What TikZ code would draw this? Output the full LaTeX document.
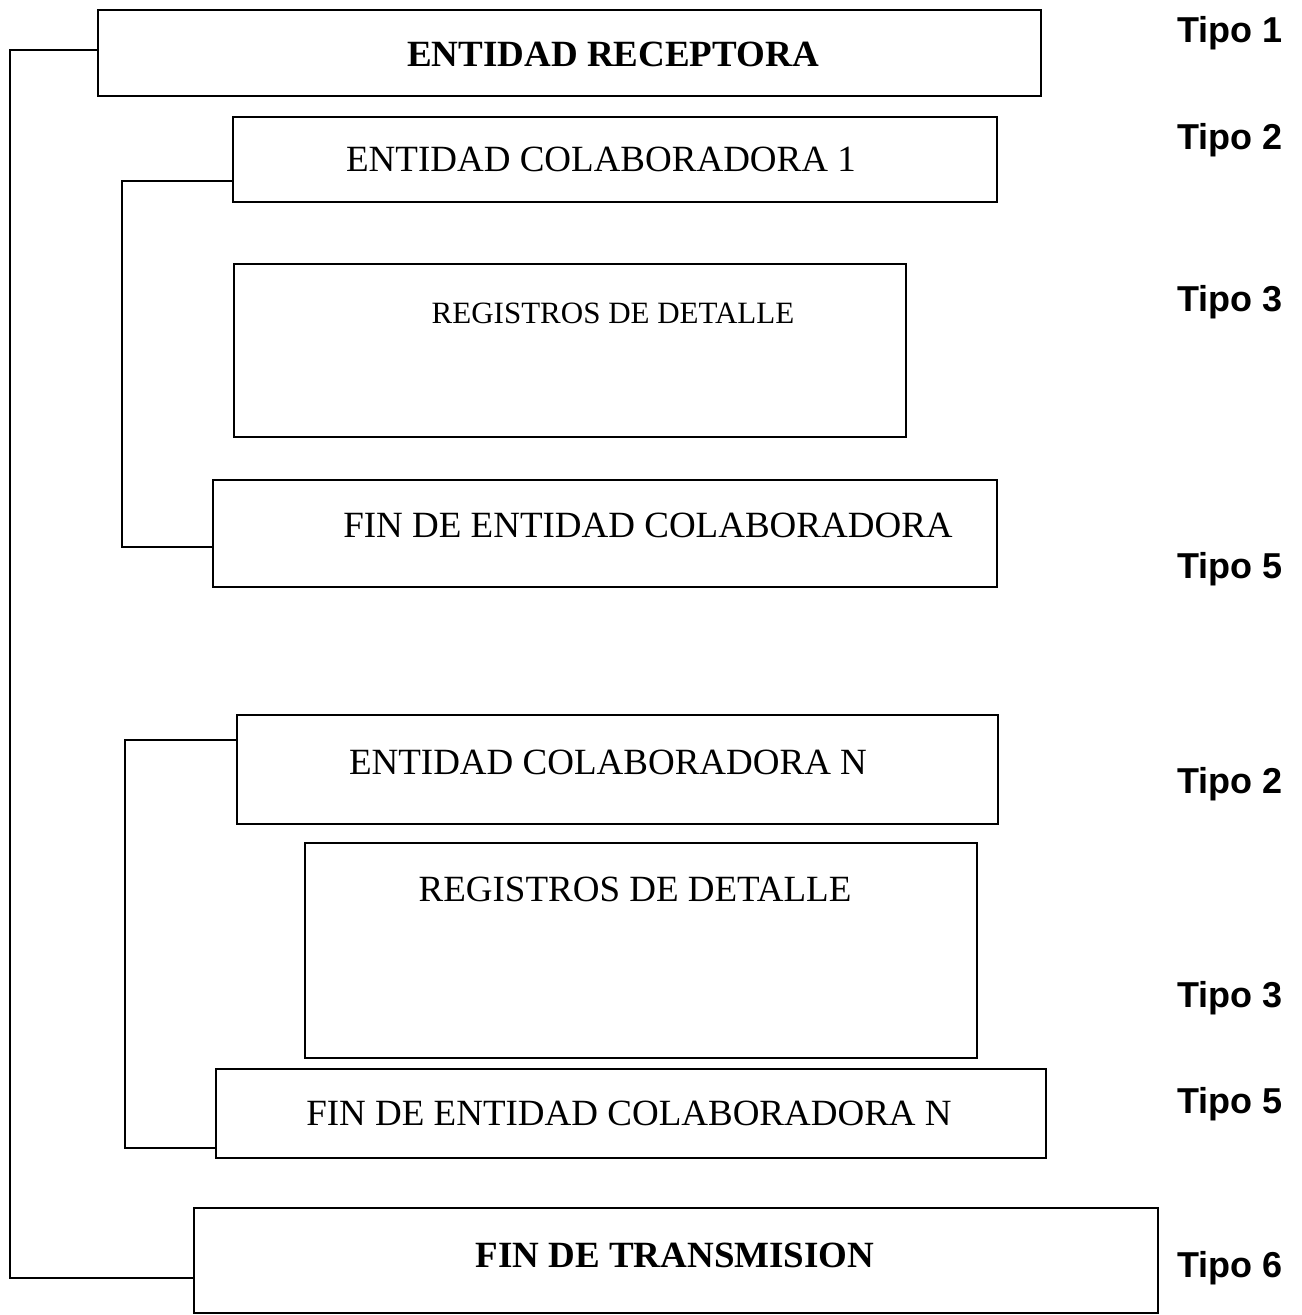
\documentclass[tikz,border=0pt]{standalone}
\usepackage{fontspec}
\setmainfont{Liberation Serif}
\newfontfamily\tiposans{Liberation Sans}
\usepackage{tikz}
\tikzstyle{bloque}=[draw,fill=white,rectangle,inner sep=0pt,line width=1pt]
\tikzstyle{texto}=[inner sep=0pt,anchor=base,font=\fontsize{18.5}{20}\selectfont]
\tikzstyle{tipo}=[inner sep=0pt,anchor=base,font=\tiposans\bfseries\fontsize{18}{20}\selectfont]
\tikzstyle{linea}=[line width=1pt]

\begin{document}
\begin{tikzpicture}[x=0.5pt,y=-0.5pt]
  \useasboundingbox (0,0) rectangle (1301,1315);
  % cajas
  \node[bloque, minimum width=471.5pt, minimum height=43pt] (recept) at (569.5,53) {};
  \node[bloque, minimum width=382pt, minimum height=42.5pt] (colab1) at (615,159.5) {};
  \node[bloque, minimum width=336pt, minimum height=86.5pt] (detalle1) at (570,350.5) {};
  \node[bloque, minimum width=392pt, minimum height=53.5pt] (fincolab1) at (605,533.5) {};
  \node[bloque, minimum width=380.5pt, minimum height=54.5pt] (colabN) at (617.5,769.5) {};
  \node[bloque, minimum width=336pt, minimum height=107.5pt] (detalleN) at (641,950.5) {};
  \node[bloque, minimum width=415pt, minimum height=44.5pt] (fincolabN) at (631,1113.5) {};
  \node[bloque, minimum width=482pt, minimum height=52.5pt] (fintrans) at (676,1260.5) {};
  % textos
  \node[texto] (recept-t) at (613,67) {\bfseries ENTIDAD RECEPTORA};
  \node[texto] (colab1-t) at (601,172) {ENTIDAD COLABORADORA 1};
  \node[texto, font=\fontsize{15.5}{17}\selectfont] (detalle1-t) at (613,324) {REGISTROS DE DETALLE};
  \node[texto] (fincolab1-t) at (648,537) {FIN DE ENTIDAD COLABORADORA};
  \node[texto] (colabN-t) at (608,774) {ENTIDAD COLABORADORA N};
  \node[texto] (detalleN-t) at (635,901) {REGISTROS DE DETALLE};
  \node[texto] (fincolabN-t) at (629,1125) {FIN DE ENTIDAD COLABORADORA N};
  \node[texto] (fintrans-t) at (675,1267) {\bfseries FIN DE TRANSMISION};
  % tipos
  \node[tipo] (tipo1) at (1230,43) {Tipo 1};
  \node[tipo] (tipo2) at (1230,150) {Tipo 2};
  \node[tipo] (tipo3) at (1230,312) {Tipo 3};
  \node[tipo] (tipo5) at (1230,578) {Tipo 5};
  \node[tipo] (tipo2b) at (1230,793) {Tipo 2};
  \node[tipo] (tipo3b) at (1230,1007) {Tipo 3};
  \node[tipo] (tipo5b) at (1230,1113) {Tipo 5};
  \node[tipo] (tipo6) at (1230,1277) {Tipo 6};
  % corchetes
  \draw[linea] ([yshift=1.5pt]recept.west) -- ++(-87,0) |- ([yshift=-8.75pt]fintrans.west);
  \draw[linea] ([yshift=-10.75pt]colab1.west) -- ++(-110,0) |- ([yshift=-6.75pt]fincolab1.west);
  \draw[linea] ([yshift=14.75pt]colabN.west) -- ++(-111,0) |- ([yshift=-17.25pt]fincolabN.west);
\end{tikzpicture}
\end{document}
